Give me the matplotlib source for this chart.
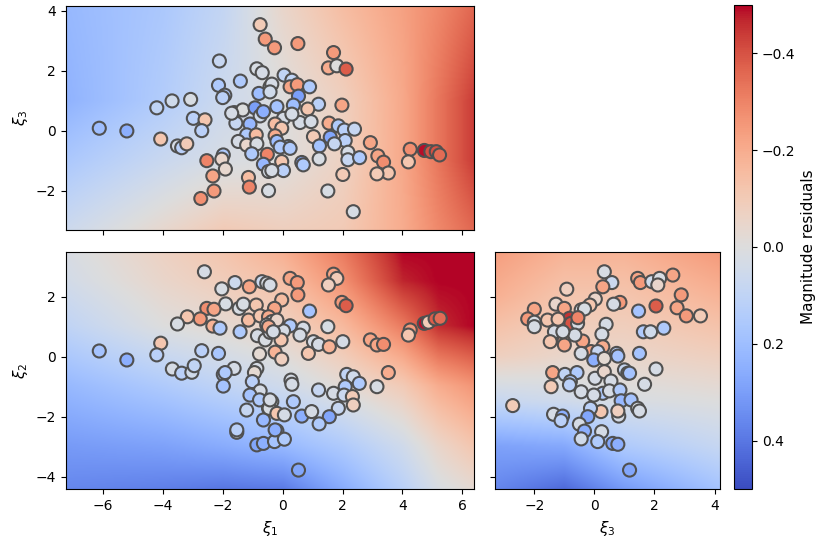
import numpy as np
import matplotlib
matplotlib.use("Agg")
import matplotlib.pyplot as plt

# axis ranges
xi1_lim = (-7.24, 6.39)
xi2_lim = (-4.42, 3.48)
xi3_lim = (-3.30, 4.17)

# background residual fields (values read at grid nodes)
top_gx = [-7.24, -4, -2, 0, 2, 4, 5.2, 6.39]
top_gy = [-3.30, -1, 1, 4.17]
top_grid = [
    [0.06, -0.04, -0.10, -0.08, -0.10, -0.20, -0.29, -0.36],
    [0.16, 0.07, 0.02, 0.00, -0.07, -0.21, -0.33, -0.44],
    [0.24, 0.14, 0.06, 0.00, -0.08, -0.21, -0.33, -0.44],
    [0.22, 0.16, 0.09, -0.05, -0.15, -0.23, -0.29, -0.36],
]

bl_gx = [-7.24, -4, -2, 0, 2, 4, 5.2, 6.39]
bl_gy = [-4.42, -3, -1, 1, 2.5, 3.48]
bl_grid = [
    [0.36, 0.38, 0.40, 0.39, 0.26, 0.12, 0.02, -0.03],
    [0.31, 0.29, 0.26, 0.22, 0.15, 0.05, -0.05, -0.12],
    [0.22, 0.15, 0.10, 0.05, -0.02, -0.10, -0.20, -0.26],
    [0.10, 0.00, -0.03, -0.07, -0.16, -0.32, -0.46, -0.5],
    [0.04, -0.05, -0.09, -0.14, -0.27, -0.47, -0.5, -0.5],
    [0.02, -0.07, -0.12, -0.19, -0.32, -0.5, -0.5, -0.5],
]

br_gx = [-3.31, -1, 1, 4.17]
br_gy = [-4.42, -3, -1.5, 0, 2, 3.48]
br_grid = [
    [0.36, 0.43, 0.31, 0.18],
    [0.29, 0.27, 0.15, 0.08],
    [0.08, 0.05, 0.02, 0.00],
    [-0.08, -0.05, -0.05, -0.08],
    [-0.19, -0.12, -0.12, -0.18],
    [-0.24, -0.18, -0.18, -0.25],
]

# top panel: xi1 vs xi3
top_x = [-0.75, -0.58, -2.11, -0.86, -0.68, -1.41, -2.14, -0.79, -1.93, -2.0,
         -3.07, -3.69, -4.2, -1.61, -1.33, -0.92, -0.75, -2.98, -2.59, -1.56,
         -1.09, -2.7, -6.12, -5.2, -4.07, -3.51, -3.37, -3.2, -1.2, -0.88,
         -1.48, -1.2, -0.86, -1.03, -0.51, -1.98, -2.53, -2.03, -1.91, -0.64,
         -0.47, -2.33, -1.14, -1.11, -2.29, -2.73, -0.47,
         -0.27, 0.51, 1.7, 1.53, 1.81, 2.12, -0.42, 0.05, 0.31, 0.25,
         0.49, 0.9, 0.53, 1.2, 1.98, 0.84, 0.36, -0.19, 0.03, 0.58,
         0.95, -0.25, -0.03, -0.25, 1.55, 1.86, 2.06, 2.4, 1.03, 1.59,
         2.09, 1.73, 1.23, -0.19, 0.19, -0.08, -0.03, 0.64, 0.69, 0.03,
         -0.36, 1.22, 2.18, 2.18, 2.57, 2.93, 3.18, 3.37, 3.53, 3.15,
         2.01, 1.51, 2.36, 4.26, 4.2, 4.73, 4.95, 5.13, 5.24,
         -0.36, -0.42, -0.64, 0.31, 0.25, -1.7]
top_y = [3.54, 3.06, 2.33, 2.07, 1.94, 1.66, 1.52, 1.25, 1.19, 1.11,
         1.05, 1.0, 0.77, 0.61, 0.70, 0.77, 0.5, 0.42, 0.37, 0.26,
         0.23, 0.01, 0.09, 0.0, -0.27, -0.5, -0.56, -0.43, -0.13, -0.13,
         -0.35, -0.47, -0.43, -0.76, -0.78, -0.8, -0.99, -0.94, -1.27, -1.11,
         -1.35, -1.5, -1.55, -1.87, -2.0, -2.25, -1.99,
         2.77, 2.91, 2.61, 2.1, 2.17, 2.06, 1.47, 1.86, 1.69, 1.47,
         1.54, 1.47, 1.16, 0.89, 0.86, 0.73, 0.86, 0.81, 0.42, 0.28,
         0.31, 0.23, 0.09, -0.16, 0.26, 0.17, 0.03, 0.06, -0.19, -0.21,
         -0.32, -0.43, -0.5, -0.35, -0.52, -0.54, -1.02, -1.05, -1.13, -1.32,
         -1.32, -0.93, -0.71, -0.96, -0.89, -0.39, -0.83, -1.04, -1.4, -1.43,
         -1.45, -2.0, -2.69, -0.61, -1.03, -0.65, -0.69, -0.69, -0.8,
         1.56, 1.3, 0.64, 0.56, -0.58, 0.59]
top_c = [-0.1, -0.25, 0.08, 0.02, 0.03, 0.15, 0.15, 0.2, 0.15, 0.12,
         0.02, 0.05, 0.1, 0.03, 0.0, 0.3, 0.05, 0.12, -0.12, 0.08,
         0.22, 0.12, 0.2, 0.25, -0.12, 0.03, 0.12, -0.1, 0.15, -0.15,
         0.03, -0.05, 0.02, 0.15, -0.3, 0.15, -0.3, -0.05, -0.04, 0.22,
         0.03, -0.22, -0.15, -0.3, -0.25, -0.27, 0.02,
         -0.25, -0.25, -0.25, -0.2, 0.0, -0.38, 0.08, 0.1, 0.1, -0.22,
         -0.25, 0.15, 0.3, 0.12, -0.22, -0.12, 0.2, 0.18, 0.03, 0.03,
         0.03, -0.15, -0.12, -0.2, -0.2, 0.15, 0.12, 0.08, -0.1, 0.28,
         0.12, 0.08, 0.18, 0.2, 0.18, 0.15, -0.12, 0.28, 0.15, 0.12,
         0.03, 0.02, 0.03, 0.08, 0.15, -0.22, -0.22, -0.28, -0.12, -0.1,
         -0.1, 0.02, 0.02, -0.28, -0.12, -0.49, -0.4, -0.4, -0.35,
         0.03, 0.05, 0.25, 0.03, 0.15, 0.03]

# bottom-left panel: xi1 vs xi2
bl_x = [-2.61, -2.03, -1.59, -1.11, -0.69, -1.9, -2.53, -2.29, -2.75, -3.18,
        -3.51, -2.33, -2.09, -1.45, -1.31, -0.88, -1.14, -0.75, -1.42, -0.84,
        -0.47, -0.58, -4.07, -4.2, -6.12, -5.2, -2.7, -2.14, -0.77, -3.68,
        -3.37, -3.03, -2.95, -1.62, -1.98, -1.92, -1.98, -0.86, -0.94, -1.01,
        -0.75, -1.09, -0.77, -0.47, -1.2, -0.64, -1.53, -0.86, -0.64,
        -0.53, -0.42, 0.25, 0.49, 0.51, -0.03, -0.27, 1.7, 1.81, 1.53,
        1.98, 2.12, 0.9, -0.47, -0.36, 0.25, 0.03, -0.53, -0.42, -0.05,
        0.69, 0.58, 1.51, 1.03, 1.2, 1.56, 2.01, 0.86, -0.25, -0.03,
        2.93, 3.15, 3.37, 3.53, 4.26, 4.2, 4.73, 4.87, 5.09, 5.26,
        0.28, 0.31, 2.14, 2.36, 2.56, 2.09, 1.7, 2.05, 2.33, 2.36,
        3.15, 1.2, 0.36, -0.36, -0.45, -0.19, 0.06, 0.64, 0.97, 1.86,
        1.56, 1.22, -0.19, -0.27, 0.06, 0.53,
        -0.19, -0.47, -0.31, -0.42, -0.25, -1.53]
bl_y = [2.83, 2.26, 2.47, 2.33, 2.5, 1.76, 1.61, 1.58, 1.26, 1.33,
        1.09, 1.02, 0.95, 1.61, 1.75, 1.72, 1.22, 1.36, 0.83, 0.7,
        1.17, 0.56, 0.45, 0.06, 0.19, -0.11, 0.2, 0.11, 0.09, -0.41,
        -0.55, -0.52, -0.3, -0.39, -0.59, -0.53, -0.98, -0.39, -0.53, -0.83,
        -1.14, -1.28, -1.44, -1.72, -1.78, -2.11, -2.52, -2.94, -2.89,
        2.45, 2.39, 2.61, 2.47, 2.06, 1.89, 1.61, 2.75, 2.61, 2.39,
        1.81, 1.7, 1.52, 1.33, 1.17, 1.03, 0.86, 1.06, 0.81, 0.56,
        0.95, 0.72, 1.0, 0.5, 0.41, 0.33, 0.5, 0.11, 0.15, -0.08,
        0.56, 0.39, 0.41, -0.53, 0.89, 0.72, 1.11, 1.15, 1.26, 1.28,
        -0.78, -0.92, -0.59, -0.67, -0.89, -1.0, -1.22, -1.28, -1.33, -1.61,
        -1.0, -1.11, -1.5, -1.5, -1.72, -1.89, -1.94, -1.98, -1.83, -1.72,
        -2.0, -2.24, -2.47, -2.83, -2.75, -3.78,
        1.22, 1.0, 0.83, -1.44, -2.44, -2.44]
bl_c = [0.03, 0.02, 0.06, -0.22, 0.07, 0.02, -0.28, -0.22, -0.25, -0.12,
        0.02, -0.18, 0.15, 0.02, 0.02, -0.12, -0.15, -0.12, 0.15, 0.03,
        0.02, 0.02, -0.12, 0.12, 0.18, 0.25, 0.12, 0.17, -0.03, 0.03,
        0.12, 0.05, 0.1, 0.03, 0.12, 0.15, 0.18, 0.03, -0.03, 0.12,
        0.03, 0.18, 0.15, 0.03, 0.08, 0.22, 0.03, 0.28, 0.25,
        0.02, 0.03, -0.22, -0.25, -0.25, -0.15, -0.22, -0.22, -0.1, -0.08,
        -0.25, -0.38, 0.18, -0.2, 0.03, 0.15, 0.03, 0.02, 0.03, -0.12,
        0.03, 0.03, 0.02, 0.03, 0.03, -0.18, 0.03, -0.12, -0.18, -0.08,
        -0.22, -0.22, -0.28, -0.2, -0.25, -0.12, -0.49, -0.1, -0.38, -0.35,
        0.03, 0.03, 0.1, 0.05, 0.15, 0.15, 0.03, 0.07, -0.1, -0.08,
        0.02, 0.08, 0.15, 0.03, 0.02, -0.12, 0.03, 0.25, 0.03, 0.08,
        0.28, 0.15, 0.25, 0.18, 0.15, 0.28,
        -0.05, -0.2, 0.03, 0.03, 0.25, 0.12]

# bottom-right panel: xi3 vs xi2
br_x = [0.33, 0.58, 0.28, -0.92, 1.44, 1.53, 1.91, 2.17, 2.11, 2.61,
        2.89, 2.75, 3.06, 3.53, 2.05, 1.47, 1.63, 1.87, 2.31, 1.5,
        2.05, 1.67, 0.85, 0.64, 0.03, -0.15, -1.28, -1.0, -2.0, -2.22,
        -2.0, -2.0, -1.56, -0.83, -0.78, -0.56, -0.44, -0.33, 0.39, -1.33,
        -1.0, -1.47, -1.02, -1.0, -0.39, -0.65, 0.25, -0.11, -0.44, 0.28,
        0.11, -0.02, 0.33, 0.74, 0.78, -1.39, -1.44, -0.98, -0.58, -0.8,
        -0.83, -0.44, 0.02, 0.33, 0.55, 1.0, 1.11, 1.17, 0.28, -0.02,
        0.5, 0.85, 0.89, 1.22, 1.44, 1.5, 0.81, 0.78, 0.22, -0.13,
        -0.22, -1.36, -1.06, -1.11, -2.72, -0.5, -0.33, -0.44, 0.24, 0.11,
        0.61, 0.78, 1.17,
        -1.21, -1.05, -0.55]
br_y = [2.83, 2.47, 2.33, 2.25, 2.61, 2.47, 2.5, 2.61, 2.39, 2.72,
        2.06, 1.63, 1.36, 1.36, 1.69, 1.52, 0.83, 0.83, 0.95, 0.11,
        -0.41, -0.92, 1.81, 1.75, 1.92, 1.72, 1.75, 1.61, 1.58, 1.26,
        1.15, 1.0, 1.22, 1.28, 1.11, 1.11, 1.56, 1.59, 1.08, 0.83,
        0.72, 0.5, 0.5, 0.39, 0.52, 0.72, 0.75, 0.17, 0.11, 0.33,
        0.17, -0.11, -0.06, 0.11, 0.02, -0.53, -1.0, -0.59, -0.53, -0.83,
        -0.94, -1.17, -0.72, -0.5, -0.81, -0.44, -0.55, -0.55, -1.22, -1.28,
        -1.14, -1.11, -1.47, -1.44, -1.72, -1.81, -1.98, -1.81, -1.83, -1.72,
        -2.0, -1.92, -1.98, -2.13, -1.63, -2.25, -2.48, -2.74, -2.5, -2.83,
        -2.89, -2.92, -3.78,
        1.25, 0.83, 1.3]
br_c = [0.02, 0.07, -0.22, -0.08, -0.22, -0.25, 0.05, 0.02, -0.05, -0.22,
        -0.25, -0.22, -0.25, -0.1, -0.38, 0.18, 0.15, 0.05, 0.15, 0.18,
        0.03, 0.03, -0.25, 0.03, -0.05, -0.12, -0.05, -0.22, -0.22, -0.25,
        0.02, 0.02, -0.12, -0.45, -0.4, 0.02, 0.02, 0.02, 0.03, 0.03,
        -0.12, -0.12, -0.18, -0.22, -0.22, 0.03, 0.03, -0.22, 0.03, -0.2,
        0.08, 0.25, -0.03, 0.12, 0.18, -0.22, -0.1, 0.1, 0.15, 0.15,
        0.12, 0.03, 0.03, -0.05, 0.03, 0.08, 0.12, 0.18, 0.15, 0.03,
        0.03, 0.15, 0.22, 0.18, 0.02, 0.03, 0.03, -0.08, -0.12, 0.12,
        0.28, 0.03, 0.25, 0.12, -0.1, 0.03, 0.25, 0.05, 0.03, 0.15,
        0.28, 0.25, 0.28,
        -0.12, 0.03, -0.3]

cmap = 'coolwarm_r'
vmin, vmax = -0.5, 0.5


def field(gx, gy, grid, xlim, ylim, n=300):
    fx = np.linspace(xlim[0], xlim[1], n)
    fy = np.linspace(ylim[0], ylim[1], n)
    grid = np.array(grid)
    rows = np.array([np.interp(fx, gx, r) for r in grid])
    out = np.array([np.interp(fy, gy, c) for c in rows.T]).T
    return out


def panel(ax, gx, gy, grid, xlim, ylim, px, py, pc):
    img = field(gx, gy, grid, xlim, ylim)
    im = ax.imshow(img, origin='lower', extent=(xlim[0], xlim[1], ylim[0], ylim[1]),
                   cmap=cmap, vmin=vmin, vmax=vmax, aspect='auto', interpolation='bicubic')
    ax.scatter(px, py, c=pc, cmap=cmap, vmin=vmin, vmax=vmax, s=88,
               edgecolors='#505050', linewidths=1.5, zorder=3)
    ax.set_xlim(xlim)
    ax.set_ylim(ylim)
    return im


fig = plt.figure(figsize=(8.3, 5.47), dpi=100)
ax_top = fig.add_axes([0.0792, 0.5795, 0.4919, 0.410])
ax_bl = fig.add_axes([0.0792, 0.1055, 0.4919, 0.4333])
ax_br = fig.add_axes([0.5967, 0.1055, 0.2704, 0.4333])
cax = fig.add_axes([0.8843, 0.106, 0.0217, 0.885])

im = panel(ax_top, top_gx, top_gy, top_grid, xi1_lim, xi3_lim, top_x, top_y, top_c)
panel(ax_bl, bl_gx, bl_gy, bl_grid, xi1_lim, xi2_lim, bl_x, bl_y, bl_c)
panel(ax_br, br_gx, br_gy, br_grid, xi3_lim, xi2_lim, br_x, br_y, br_c)

ax_top.set_xticks([-6, -4, -2, 0, 2, 4, 6])
ax_top.set_xticklabels([])
ax_top.set_yticks([-2, 0, 2, 4])
ax_bl.set_xticks([-6, -4, -2, 0, 2, 4, 6])
ax_bl.set_yticks([-4, -2, 0, 2])
ax_br.set_xticks([-2, 0, 2, 4])
ax_br.set_yticks([-4, -2, 0, 2])
ax_br.set_yticklabels([])

ax_top.set_ylabel(r'$\xi_3$', fontsize=11)
ax_bl.set_ylabel(r'$\xi_2$', fontsize=11)
ax_bl.set_xlabel(r'$\xi_1$', fontsize=11)
ax_br.set_xlabel(r'$\xi_3$', fontsize=11)

cb = fig.colorbar(im, cax=cax)
cax.invert_yaxis()
cb.set_ticks([-0.4, -0.2, 0.0, 0.2, 0.4])
cb.set_label('Magnitude residuals', fontsize=11)

fig.savefig('out.png', dpi=100)
